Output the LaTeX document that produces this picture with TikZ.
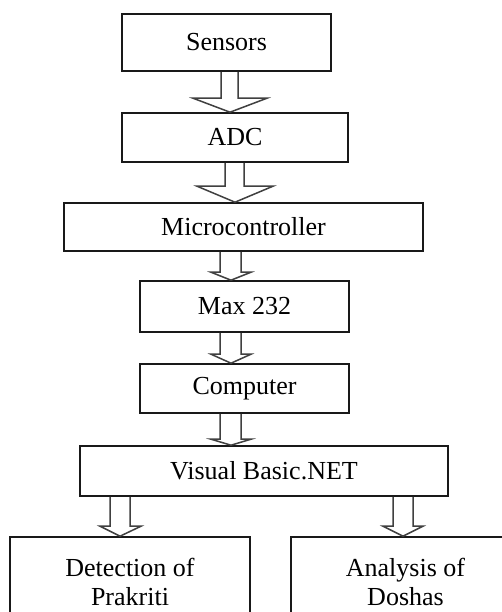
\documentclass[tikz,border=0pt]{standalone}
\usepackage{fontspec}
\setmainfont{Liberation Serif}
\usetikzlibrary{calc}
\tikzset{
  blk/.style={draw=black!90, line width=1.6pt, rectangle, inner sep=0pt, align=center,
    font=\fontsize{26}{29}\selectfont, text=black},
  arrowline/.style={draw=black!75, line width=1.5pt, line join=miter}
}
% from, to, shaft left x, shaft right x, head left x, head right x, tip x, head depth
\newcommand\harrow[8]{%
  \coordinate (hb) at ($(#2.north)+(0,-#8)$);
  \draw[arrowline] (#3,0 |- #1.south) -- (#3,0 |- hb) -- (#5,0 |- hb) -- (#7,0 |- #2.north)
    -- (#6,0 |- hb) -- (#4,0 |- hb) -- (#4,0 |- #1.south);
}
\begin{document}
\begin{tikzpicture}[x=1pt,y=-1pt]
\useasboundingbox (0,0) rectangle (502,612);
\fill[white] (0,0) rectangle (502,612);
\clip (0,0) rectangle (502,612);
\node[blk, minimum width=209pt, minimum height=57pt] (sen) at (226.5,42.5) {Sensors};
\node[blk, minimum width=226pt, minimum height=49pt] (adc) at (235,137.5) {ADC};
\node[blk, minimum width=359pt, minimum height=48pt] (mic) at (243.5,227) {Microcontroller};
\node[blk, minimum width=209pt, minimum height=51pt] (max) at (244.5,306.5) {Max 232};
\node[blk, minimum width=209pt, minimum height=49pt] (com) at (244.5,388.5) {Computer};
\node[blk, minimum width=368pt, minimum height=50pt] (vb) at (264,471) {Visual Basic.NET};
\node[blk, minimum width=240pt, minimum height=89pt] (det) at (130,581.5) {Detection of\\Prakriti};
\node[blk, minimum width=229pt, minimum height=89pt] (ana) at (405.5,581.5) {Analysis of\\Doshas};
\harrow{sen}{adc}{221}{238}{193}{267}{230}{14}
\harrow{adc}{mic}{225}{244}{197}{273}{235}{16}
\harrow{mic}{max}{220}{241}{211}{251}{231}{8}
\harrow{max}{com}{220}{241}{211}{251}{231}{9}
\harrow{com}{vb}{220}{241}{211}{251}{231}{6}
\harrow{vb}{det}{110}{130}{100}{141}{120}{10}
\harrow{vb}{ana}{393}{413}{383}{423}{403}{10}
\end{tikzpicture}
\end{document}
